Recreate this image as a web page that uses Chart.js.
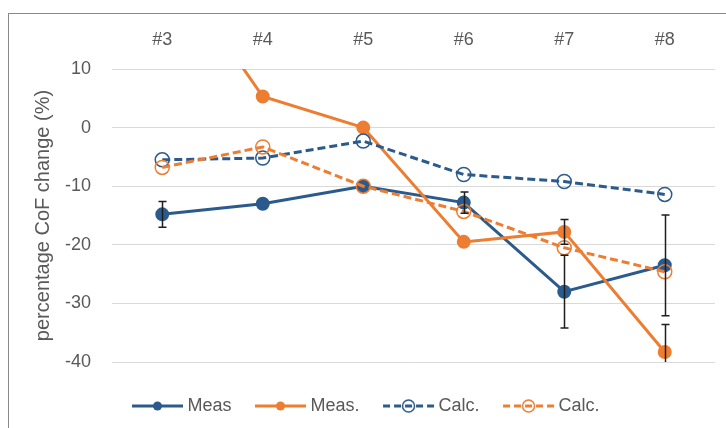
<!DOCTYPE html>
<html>
<head>
<meta charset="utf-8">
<script src="https://cdn.jsdelivr.net/npm/chart.js@4/dist/chart.umd.min.js"></script>
<style>
  html, body { margin: 0; padding: 0; background: #fff; }
  #wrap { width: 726px; height: 428px; }
</style>
</head>
<body>
<div id="wrap"><canvas id="c" width="726" height="428"></canvas></div>
<script>
// Sample positions along the top axis
const categories = ['#3', '#4', '#5', '#6', '#7', '#8'];

// Measured change (two series) with symmetric error half-widths
const measBlue = [-14.8, -13.0, -10.0, -12.8, -28.0, -23.5];
const measBlueErr = [2.2, 0, 0, 1.8, 6.2, 8.6];
const measOrange = [30.0, 5.3, 0.0, -19.5, -17.8, -38.3];
const measOrangeErr = [0, 0, 0, 0, 2.1, 4.7];

// Calculated change (two series)
const calcBlue = [-5.5, -5.2, -2.3, -8.0, -9.2, -11.4];
const calcOrange = [-6.8, -3.3, -10.0, -14.3, -20.5, -24.6];

// Value axis ticks
const yTicks = [10, 0, -10, -20, -30, -40];

const BLUE = '#2b5a8c';
const ORANGE = '#ed7d31';
const TEXT = '#595959';
const FONT = '"Liberation Sans", Arial, sans-serif';

// Line + marker swatch for the legend; the line sits just left of the label
function legendIcon(color, dashed, open) {
  const c = document.createElement('canvas');
  c.width = 60; c.height = 18;
  const g = c.getContext('2d');
  g.strokeStyle = color;
  g.lineWidth = 3;
  if (dashed) g.setLineDash([7, 4]);
  g.beginPath(); g.moveTo(1, 9); g.lineTo(52, 9); g.stroke();
  g.setLineDash([]);
  g.beginPath();
  g.arc(26.5, 9, open ? 6 : 4.5, 0, Math.PI * 2);
  if (open) { g.lineWidth = 1.5; g.stroke(); }
  else { g.fillStyle = color; g.fill(); }
  return c;
}
const icons = [
  legendIcon(BLUE, false, false),
  legendIcon(ORANGE, false, false),
  legendIcon(BLUE, true, true),
  legendIcon(ORANGE, true, true)
];

// Outer frame around the chart
const frame = {
  id: 'frame',
  beforeDraw(chart) {
    const ctx = chart.ctx;
    ctx.save();
    ctx.fillStyle = '#fff';
    ctx.fillRect(0, 0, chart.width, chart.height);
    ctx.strokeStyle = '#8a8a8a';
    ctx.lineWidth = 1;
    ctx.strokeRect(8.5, 13.5, chart.width + 10, chart.height + 10);
    ctx.restore();
  }
};

// Vertical error bars with caps
const errorBars = {
  id: 'errorBars',
  afterDatasetsDraw(chart) {
    const { ctx, chartArea, scales } = chart;
    const x = scales.x, y = scales.y;
    ctx.save();
    ctx.beginPath();
    ctx.rect(chartArea.left, chartArea.top, chartArea.right - chartArea.left, chartArea.bottom - chartArea.top);
    ctx.clip();
    ctx.strokeStyle = '#1e1e1e';
    ctx.lineWidth = 1.5;
    chart.data.datasets.forEach((ds) => {
      if (!ds.errors) return;
      ds.errors.forEach((e, j) => {
        if (!e) return;
        const px = Math.round(x.getPixelForValue(j)) + 0.5;
        const top = y.getPixelForValue(ds.data[j] + e);
        const bot = y.getPixelForValue(ds.data[j] - e);
        ctx.beginPath();
        ctx.moveTo(px, top); ctx.lineTo(px, bot);
        ctx.moveTo(px - 4, top); ctx.lineTo(px + 4, top);
        ctx.moveTo(px - 4, bot); ctx.lineTo(px + 4, bot);
        ctx.stroke();
      });
    });
    ctx.restore();
  }
};

new Chart(document.getElementById('c'), {
  type: 'line',
  data: {
    labels: categories,
    datasets: [
      {
        label: 'Meas', data: measBlue, errors: measBlueErr, order: 3,
        borderColor: BLUE, backgroundColor: BLUE, borderWidth: 3,
        pointRadius: 5.5, pointBackgroundColor: BLUE, pointBorderColor: BLUE
      },
      {
        label: 'Meas.', data: measOrange, errors: measOrangeErr, order: 2,
        borderColor: ORANGE, backgroundColor: ORANGE, borderWidth: 3,
        pointRadius: 5.5, pointBackgroundColor: ORANGE, pointBorderColor: ORANGE
      },
      {
        label: 'Calc.', data: calcBlue, order: 1,
        borderColor: BLUE, backgroundColor: 'transparent', borderWidth: 3, borderDash: [8, 4],
        pointRadius: 7, pointBorderWidth: 1.5, pointBackgroundColor: 'rgba(0,0,0,0)', pointBorderColor: BLUE
      },
      {
        label: 'Calc.', data: calcOrange, order: 0,
        borderColor: ORANGE, backgroundColor: 'transparent', borderWidth: 3, borderDash: [8, 4],
        pointRadius: 7, pointBorderWidth: 1.5, pointBackgroundColor: 'rgba(0,0,0,0)', pointBorderColor: ORANGE
      }
    ]
  },
  options: {
    responsive: false,
    animation: false,
    devicePixelRatio: 1,
    layout: { padding: { left: 28, right: 11, top: 0, bottom: 3 } },
    plugins: {
      tooltip: { enabled: false },
      legend: {
        position: 'bottom',
        labels: {
          usePointStyle: true,
          pointStyleWidth: 35,
          padding: 35,
          color: TEXT,
          font: { family: FONT, size: 18 },
          sort: (a, b) => a.datasetIndex - b.datasetIndex,
          generateLabels(chart) {
            const items = Chart.defaults.plugins.legend.labels.generateLabels(chart);
            items.forEach((it) => { it.pointStyle = icons[it.datasetIndex]; it.fontColor = TEXT; });
            return items;
          }
        }
      }
    },
    scales: {
      x: {
        position: 'top',
        offset: true,
        grid: { display: false, drawTicks: false },
        border: { display: false },
        ticks: { color: TEXT, padding: 18, font: { family: FONT, size: 18 } },
        afterFit(scale) { scale.height = 69; }
      },
      y: {
        min: -40, max: 10,
        grid: { color: '#d9d9d9', lineWidth: 1, drawTicks: false },
        border: { display: false },
        afterBuildTicks(scale) { scale.ticks = yTicks.map((v) => ({ value: v })); },
        ticks: { color: TEXT, padding: 21, font: { family: FONT, size: 18 } },
        title: {
          display: true,
          text: 'percentage CoF change (%)',
          color: TEXT,
          font: { family: FONT, size: 20 },
          padding: { top: 3, bottom: 3 }
        },
        afterFit(scale) { scale.width = 84; }
      }
    }
  },
  plugins: [frame, errorBars]
});
</script>
</body>
</html>
